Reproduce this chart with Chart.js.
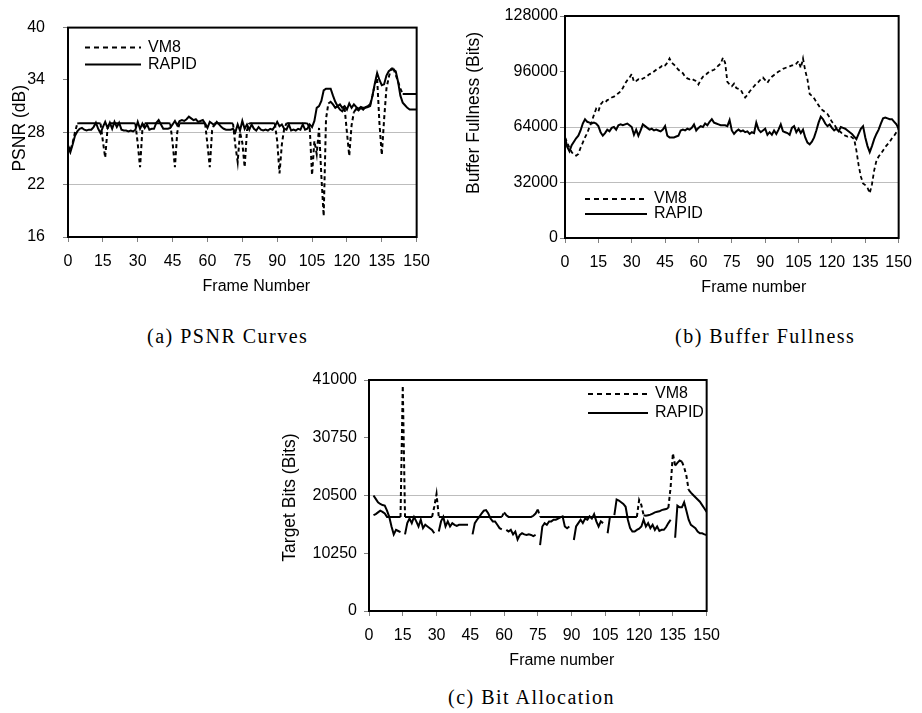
<!DOCTYPE html>
<html>
<head>
<meta charset="utf-8">
<script src="https://cdn.jsdelivr.net/npm/chart.js@4/dist/chart.umd.min.js"></script>
<style>
    body { margin: 0; background: #fff; }
    #page { position: relative; width: 922px; height: 713px; overflow: hidden; background: #fff; }
    canvas { position: absolute; }
    .caption { position: absolute; font-family: "Liberation Serif", "Times New Roman", serif; font-size: 20px; letter-spacing: 1.5px; line-height: 24px; color: #000; white-space: nowrap; }
</style>
</head>
<body>
<div id="page">
    <canvas id="chart-psnr" width="440" height="300" style="left:0px;top:0px"></canvas>
    <canvas id="chart-buffer" width="472" height="300" style="left:450px;top:0px"></canvas>
    <canvas id="chart-bits" width="500" height="320" style="left:230px;top:360px"></canvas>
    <div class="caption" style="left:147px;top:324px">(a) PSNR Curves</div>
    <div class="caption" style="left:675px;top:324px">(b) Buffer Fullness</div>
    <div class="caption" style="left:448px;top:685px">(c) Bit Allocation</div>
</div>
<script>
// ─── Data ─────────────────────────────────────────────────────────────────────
const FRAMES = Array.from({ length: 151 }, (_, i) => i);
const FRAME_TICKS = [0, 15, 30, 45, 60, 75, 90, 105, 120, 135, 150];

// (a) PSNR (dB)
const psnrVm8 = [
    26.5, 25.9, 26.8, 28.0, 29.0, 29.05, 29.05, 29.05, 29.05, 29.05,
    29.05, 29.05, 29.05, 29.05, 29.0, 27.0, 25.1, 28.4, 29.05, 29.05,
    29.05, 29.05, 29.05, 29.05, 29.05, 29.05, 29.05, 29.05, 29.05, 29.0,
    26.7, 24.0, 28.3, 29.05, 29.05, 29.05, 29.05, 29.05, 29.05, 29.05,
    29.05, 29.05, 29.05, 29.05, 29.0, 26.8, 24.0, 28.0, 29.05, 29.05,
    29.05, 29.05, 29.05, 29.05, 29.05, 29.05, 29.05, 29.05, 29.05, 29.0,
    26.6, 24.0, 28.2, 29.05, 29.05, 29.05, 29.05, 29.05, 29.05, 29.05,
    29.05, 29.0, 26.5, 24.6, 28.0, 26.8, 24.0, 28.2, 29.05, 29.05,
    29.05, 29.05, 29.05, 29.05, 29.05, 29.05, 29.05, 29.05, 29.05, 29.0,
    27.0, 23.3, 26.6, 28.4, 29.05, 29.05, 29.05, 29.05, 29.05, 29.05,
    29.05, 29.05, 29.05, 29.0, 28.5, 23.1, 27.0, 25.5, 28.5, 23.0,
    18.4, 29.5, 31.3, 31.5, 31.2, 30.8, 31.0, 30.6, 30.4, 30.8,
    28.0, 25.3, 28.8, 30.3, 30.7, 30.5, 30.8, 30.6, 30.9, 31.0,
    31.2, 32.2, 33.5, 34.2, 29.0, 25.4, 29.5, 33.0, 34.3, 35.3,
    35.3, 34.6, 33.8, 33.0, 32.4, 32.4, 32.4, 32.4, 32.4, 32.4, 32.4,
];
const psnrRapid = [
    26.3, 25.7, 26.6, 27.6, 28.1, 28.4, 28.5, 28.3, 28.2, 28.3,
    28.3, 28.6, 29.1, 28.4, 27.9, 28.6, 29.2, 28.5, 29.1, 28.4,
    29.2, 28.6, 29.1, 28.3, 28.2, 28.2, 28.1, 28.2, 28.1, 28.3,
    29.2, 28.4, 29.0, 28.5, 28.9, 28.3, 28.4, 28.4, 29.1, 29.4,
    28.9, 28.4, 28.4, 28.4, 28.5, 28.9, 29.3, 28.8, 29.3, 29.4,
    29.3, 29.5, 29.8, 29.6, 29.4, 29.5, 29.2, 29.3, 29.4, 29.0,
    28.5, 29.2, 29.0, 28.8, 29.2, 28.9, 28.6, 28.4, 28.3, 28.3,
    28.3, 28.4, 28.0, 28.9, 28.2, 29.3, 28.4, 28.9, 28.3, 28.9,
    28.4, 28.2, 28.6, 28.3, 28.2, 28.3, 28.2, 28.4, 28.3, 28.7,
    29.2, 28.7, 28.9, 28.4, 28.3, 28.9, 28.2, 28.3, 28.2, 28.4,
    28.3, 28.9, 28.3, 28.4, 28.9, 28.6, 29.3, 30.8, 31.0, 31.6,
    32.8, 33.0, 33.0, 33.0, 32.2, 31.5, 31.0, 31.2, 30.8, 31.0,
    30.6, 31.3, 30.8, 31.2, 30.9, 30.7, 30.9, 30.8, 30.8, 30.9,
    31.0, 32.2, 33.6, 34.8, 34.0, 33.4, 33.5, 34.5, 35.0, 35.2,
    35.2, 35.0, 33.8, 32.2, 31.4, 31.1, 30.8, 30.6, 30.6, 30.6, 30.6,
];

// (b) Buffer fullness (bits)
const bufferVm8 = [
    58000, 55000, 52000, 49500, 48000, 47500, 48500, 52000, 55000, 58000,
    60500, 64000, 67000, 71000, 74500, 73000, 77000, 78500, 78000, 79500,
    80000, 81000, 81500, 82500, 83500, 84500, 86500, 89000, 91000, 92500,
    94500, 90000, 90500, 91500, 91000, 92000, 92500, 93500, 94500, 95000,
    96000, 97000, 98000, 98500, 100000, 99500, 101000, 103500, 101000, 100000,
    98500, 97000, 96000, 95000, 93000, 92000, 91500, 92000, 91000, 90500,
    88500, 91000, 93000, 93500, 95000, 96000, 96500, 97000, 98000, 99500,
    100500, 104000, 101000, 90000, 88500, 87500, 89000, 86500, 86000, 85500,
    83000, 81000, 82500, 84500, 86000, 87500, 89000, 90000, 91500, 92500,
    91000, 89500, 91500, 93000, 94000, 95000, 96000, 96500, 97500, 98000,
    98500, 99000, 99500, 99500, 100500, 102000, 98000, 103500, 96500, 91500,
    83000, 82000, 80500, 78500, 76500, 74500, 73500, 72500, 71500, 69500,
    67000, 65500, 63500, 62000, 61000, 59500, 59000, 58500, 59000, 58000,
    57000, 50500, 42000, 35500, 31500, 30500, 29000, 25800, 31000, 39000,
    44500, 47000, 48500, 50500, 52500, 54000, 55500, 57500, 59000, 61000, 63000,
];
const bufferRapid = [
    58000, 52500, 50000, 53500, 55500, 57500, 59000, 62000, 66000, 68500,
    67000, 66500, 66000, 66500, 66000, 64500, 61000, 59000, 60500, 62500,
    61500, 63500, 64000, 62500, 65000, 65500, 65000, 65500, 66000, 65000,
    64000, 59500, 62500, 59000, 62000, 65500, 64500, 63500, 62500, 63000,
    62000, 62500, 62000, 61500, 62500, 64500, 59000, 58000, 58000, 58000,
    58500, 59000, 62000, 62500, 62000, 63000, 62500, 63500, 65500, 62000,
    63500, 64500, 64000, 66000, 65000, 67000, 68500, 66500, 66000, 65500,
    65000, 65000, 65000, 64500, 68000, 62000, 60000, 61500, 62500, 61500,
    62000, 61000, 61500, 60000, 61000, 60500, 66500, 62500, 61000, 62000,
    63000, 59500, 61000, 59500, 62000, 60000, 62500, 65500, 61500, 61000,
    60500, 59500, 63500, 64500, 61000, 63000, 60500, 62500, 58000, 55000,
    54000, 55500, 58000, 62000, 66500, 70000, 68500, 66000, 64500, 65500,
    63500, 62000, 63000, 61500, 64000, 63500, 63000, 62000, 61000, 60000,
    58500, 57000, 60000, 63000, 64500, 58000, 53000, 49500, 53000, 57000,
    60000, 62500, 66000, 69000, 69500, 69000, 68500, 68500, 67000, 65500, 63000,
];

// (c) Target bits (bits); null where a series is not plotted
const bitsVm8 = [
    null, null, 17000, 17200, 17500, 17800, 17600, 17300, 16700, 16700,
    16700, 16700, 16700, 16700, 16700, 40000, 16700, 16700, 16700, 16700,
    16700, 16700, 16700, 16700, 16700, 16700, 16700, 16700, 16700, 18500,
    20800, 16700, 16700, 16700, 16700, 16700, 16700, 16700, 16700, 16700,
    16700, 16700, 16700, 16700, 16700, 16700, 16700, 16700, 16700, 16700,
    16700, 16700, 16700, 16700, 16700, 16700, 16700, 16700, 16700, 16700,
    17500, 17000, 16700, 16700, 16700, 16700, 16700, 16700, 16700, 16700,
    16700, 16700, 16700, 16900, 17300, 18000, 16700, 16700, 16700, 16700,
    16700, 16700, 16700, 16700, 16700, 16700, 16700, 16700, 16700, 16700,
    16700, 16700, 16700, 16700, 16700, 16700, 16700, 16700, 16700, 16700,
    16700, 16700, 16700, 16700, 16700, 16700, 16700, 16700, 16700, 16700,
    16700, 16700, 16700, 16700, 16700, 16700, 16700, 16700, 16700, 16700,
    19700, 18800, 17000, 16900, 17000, 17100, 17300, 17500, 17600, 17700,
    17900, 18000, 18100, 18300, 22000, 28000, 25800, 26300, 26700, 26500,
    25500, 24000, 21500, 21000, 20600, 20200, 19800, 19400, 18800, 18200, 17600,
];
const bitsRapid = [
    null, null, 20500, 19900, 19300, 19000, 18800, 18700, 17800, 16700,
    15000, 13600, 14400, 14200, 14000, null, 13600, 15600, 16400, 15600,
    16700, 15900, 15000, 16200, 14700, 15300, 15000, 14700, 14400, 13800,
    null, 14100, 15900, 16700, 15000, 15900, 15000, 15600, 15300, 15100,
    15300, 15300, 15300, 15300, 15300, null, 13600, 15600, 16200, 16700,
    17300, 17800, 17900, 17300, 16400, 15900, 15900, 15300, 14700, 14500,
    null, 14400, 14100, 14400, 13600, 14100, 12700, 13500, 13800, 13600,
    13500, 13600, 13500, 13300, 13500, null, 11700, 15000, 15600, 15300,
    15900, 15900, 16200, 16200, 16400, 16600, 16800, 15000, 14700, 15000,
    null, 12600, 15000, 15600, 16200, 15600, 16400, 16200, 16800, 16400,
    17200, 15900, 15000, 15900, 15600, null, 13800, 16600, null, 17000,
    19800, 19600, 19300, 19000, 18500, 16200, 14700, 14100, 14100, 14400,
    14600, 15000, 16200, 15000, 15600, 14700, 15300, 14400, 15000, 14200,
    14400, 14400, 14900, 15600, 16200, null, 13000, 18700, 18400, 18400,
    19300, 17800, 16200, 15300, 15000, 14700, 14100, 13800, 13800, 13600, 13500,
];

// ─── Shared styling ───────────────────────────────────────────────────────────
const SANS = '"Liberation Sans", Arial, sans-serif';
const FONT = { family: SANS, size: 16 };
Chart.defaults.font.family = SANS;
Chart.defaults.color = "#000";

// frame border, inner legend and axis titles (placed like the original figure)
const figureDecor = {
    id: "figureDecor",
    afterDraw(chart, args, o) {
        const { ctx, chartArea: a } = chart;
        ctx.save();
        ctx.strokeStyle = "#000";
        ctx.lineWidth = 2;
        ctx.strokeRect(a.left, a.top, a.right - a.left, a.bottom - a.top);

        ctx.font = `16px ${SANS}`;
        ctx.fillStyle = "#000";
        ctx.textBaseline = "middle";
        ctx.textAlign = "left";
        chart.data.datasets.forEach((ds, i) => {
            const y = a.top + o.legendTop + i * o.legendGap;
            const x0 = a.left + o.legendLeft;
            ctx.setLineDash(ds.label === "VM8" ? [5, 4] : []);
            ctx.lineWidth = 2;
            ctx.beginPath();
            ctx.moveTo(x0, y);
            ctx.lineTo(x0 + o.legendLen, y);
            ctx.stroke();
            ctx.setLineDash([]);
            ctx.fillText(ds.label, x0 + o.legendLen + 7, y);
        });

        ctx.textAlign = "center";
        ctx.fillText(o.xTitle, (a.left + a.right) / 2 + o.xShift, a.bottom + 49.5);
        ctx.font = `17.5px ${SANS}`;
        ctx.translate(o.yTitleX, (a.top + a.bottom) / 2 + o.yShift);
        ctx.rotate(-Math.PI / 2);
        ctx.fillText(o.yTitle, 0, 0);
        ctx.restore();
    },
};

const steep = (ctx) => Math.hypot(ctx.p1.x - ctx.p0.x, ctx.p1.y - ctx.p0.y) > 5;

function vm8Line(values, dashAll) {
    return {
        label: "VM8",
        data: values,
        borderColor: "#000",
        borderWidth: dashAll ? 1.8 : 2,
        pointRadius: 0,
        tension: 0,
        borderDash: dashAll ? [4, 3] : [],
        // short flat steps render solid, long jumps dashed
        segment: dashAll ? {} : { borderDash: (ctx) => (steep(ctx) ? [4, 3] : undefined) },
    };
}

function rapidLine(values) {
    return { label: "RAPID", data: values, borderColor: "#000", borderWidth: 2, pointRadius: 0, tension: 0 };
}

function buildScales(o) {
    return {
        x: {
            type: "linear",
            min: 0,
            max: 150,
            afterFit: (s) => { s.height = o.xHeight; },
            afterBuildTicks: (s) => { s.ticks = FRAME_TICKS.map((v) => ({ value: v })); },
            ticks: { autoSkip: false, maxRotation: 0, padding: 10, color: "#000", font: FONT },
            grid: { drawOnChartArea: false, tickLength: 5, tickColor: "#808080" },
            border: { color: "#000", width: 2 },
        },
        y: {
            min: o.yMin,
            max: o.yMax,
            afterFit: (s) => { s.width = o.yWidth; },
            afterBuildTicks: (s) => { s.ticks = o.yTicks.map((v) => ({ value: v })); },
            ticks: { padding: o.yPad, color: "#000", font: FONT, callback: (v) => String(v) },
            grid: {
                color: (c) => (o.yGrid.includes(c.tick.value) ? "#bdbdbd" : "rgba(0,0,0,0)"),
                tickLength: 5,
                tickColor: "#808080",
            },
            border: { color: "#000", width: 2 },
        },
    };
}

function makeChart(id, datasets, scaleOpts, padding, decor) {
    return new Chart(document.getElementById(id), {
        type: "line",
        data: { labels: FRAMES, datasets },
        options: {
            responsive: false,
            animation: false,
            layout: { padding },
            plugins: { legend: { display: false }, tooltip: { enabled: false }, figureDecor: decor },
            scales: buildScales(scaleOpts),
        },
        plugins: [figureDecor],
    });
}

// ─── Charts ───────────────────────────────────────────────────────────────────
makeChart(
    "chart-psnr",
    [vm8Line(psnrVm8, false), rapidLine(psnrRapid)],
    { yMin: 16, yMax: 40, yTicks: [16, 22, 28, 34, 40], yGrid: [22, 28], yWidth: 68, yPad: 18, xHeight: 63 },
    { top: 17, right: 15, left: 0, bottom: 0 },
    { legendTop: 20, legendLeft: 17, legendGap: 17, legendLen: 56, xTitle: "Frame Number", xShift: 14, yTitle: "PSNR (dB)", yTitleX: 20, yShift: -4 }
);

makeChart(
    "chart-buffer",
    [vm8Line(bufferVm8, true), rapidLine(bufferRapid)],
    { yMin: 0, yMax: 128000, yTicks: [0, 32000, 64000, 96000, 128000], yGrid: [32000, 64000], yWidth: 115, yPad: 2, xHeight: 62 },
    { top: 16, right: 17, left: 0, bottom: 0 },
    { legendTop: 183, legendLeft: 20, legendGap: 15, legendLen: 62, xTitle: "Frame number", xShift: 22, yTitle: "Buffer Fullness (Bits)", yTitleX: 24, yShift: -14 }
);

makeChart(
    "chart-bits",
    [vm8Line(bitsVm8, false), rapidLine(bitsRapid)],
    { yMin: 0, yMax: 41000, yTicks: [0, 10250, 20500, 30750, 41000], yGrid: [20500], yWidth: 139, yPad: 7, xHeight: 69 },
    { top: 20, right: 17, left: 0, bottom: 0 },
    { legendTop: 14, legendLeft: 219, legendGap: 19, legendLen: 60, xTitle: "Frame number", xShift: 24, yTitle: "Target Bits (Bits)", yTitleX: 60, yShift: 2 }
);
</script>
</body>
</html>
